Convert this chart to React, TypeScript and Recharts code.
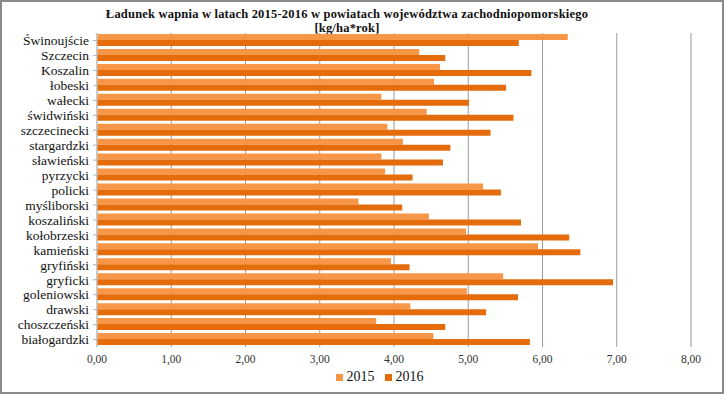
import { BarChart, Bar, XAxis, YAxis, CartesianGrid, Legend } from "recharts"

const powiaty = [
  "Świnoujście",
  "Szczecin",
  "Koszalin",
  "łobeski",
  "wałecki",
  "świdwiński",
  "szczecinecki",
  "stargardzki",
  "sławieński",
  "pyrzycki",
  "policki",
  "myśliborski",
  "koszaliński",
  "kołobrzeski",
  "kamieński",
  "gryfiński",
  "gryficki",
  "goleniowski",
  "drawski",
  "choszczeński",
  "białogardzki",
]

const v2015 = [6.34, 4.34, 4.62, 4.54, 3.83, 4.44, 3.91, 4.12, 3.83, 3.88, 5.2, 3.52, 4.47, 4.97, 5.94, 3.96, 5.47, 4.98, 4.22, 3.76, 4.53]
const v2016 = [5.68, 4.69, 5.85, 5.51, 5.01, 5.61, 5.3, 4.76, 4.66, 4.25, 5.44, 4.11, 5.71, 6.36, 6.51, 4.21, 6.95, 5.67, 5.24, 4.69, 5.83]

const xTicks = [0, 1, 2, 3, 4, 5, 6, 7, 8]

const data = powiaty.map((name, i) => ({ name, y2015: v2015[i], y2016: v2016[i] }))

const serif = "'Liberation Serif', 'Times New Roman', serif"

export default function App() {
  return (
    <div
      style={{
        position: "absolute",
        left: 0,
        top: 0,
        width: 724,
        height: 394,
        background: "#fff",
        boxSizing: "border-box",
        border: "2px solid #8a8a8a",
        fontFamily: serif,
      }}
    >
      <div
        style={{
          position: "absolute",
          left: 0,
          width: 690,
          top: 5,
          textAlign: "center",
          fontWeight: "bold",
          fontSize: 12.5,
          letterSpacing: 0.2,
          lineHeight: "14px",
          color: "#111",
        }}
      >
        Ładunek wapnia w latach 2015-2016 w powiatach województwa zachodniopomorskiego
        <br />
        [kg/ha*rok]
      </div>
      <BarChart
        width={720}
        height={390}
        data={data}
        layout="vertical"
        margin={{ top: 31, right: 31, bottom: 3, left: 0 }}
        barCategoryGap={2}
        barGap={0}
        style={{ position: "absolute", left: 0, top: 0 }}
      >
        <CartesianGrid horizontal={false} stroke="#9a9a9a" />
        <XAxis
          type="number"
          domain={[0, 8]}
          ticks={xTicks}
          tickFormatter={(v) => v.toFixed(2).replace(".", ",")}
          tick={{ fontSize: 11.5, fill: "#333", fontFamily: serif }}
          tickLine={false}
          axisLine={false}
          height={22}
        />
        <YAxis
          type="category"
          dataKey="name"
          width={95}
          interval={0}
          tick={{ fontSize: 13.5, fill: "#111", fontFamily: serif }}
          tickLine={{ stroke: "#9fb7d6" }}
          tickSize={4}
          tickMargin={4}
          axisLine={{ stroke: "#c9c9c9" }}
        />
        <Legend
          verticalAlign="bottom"
          height={20}
          iconType="square"
          iconSize={7}
          wrapperStyle={{ fontSize: 14, fontFamily: serif, color: "#111", paddingLeft: 38 }}
          formatter={(value) => <span style={{ color: "#111" }}>{value}</span>}
        />
        <Bar dataKey="y2015" name="2015" fill="#f79646" barSize={6} isAnimationActive={false} />
        <Bar dataKey="y2016" name="2016" fill="#e46c0a" barSize={6} isAnimationActive={false} />
      </BarChart>
    </div>
  )
}
